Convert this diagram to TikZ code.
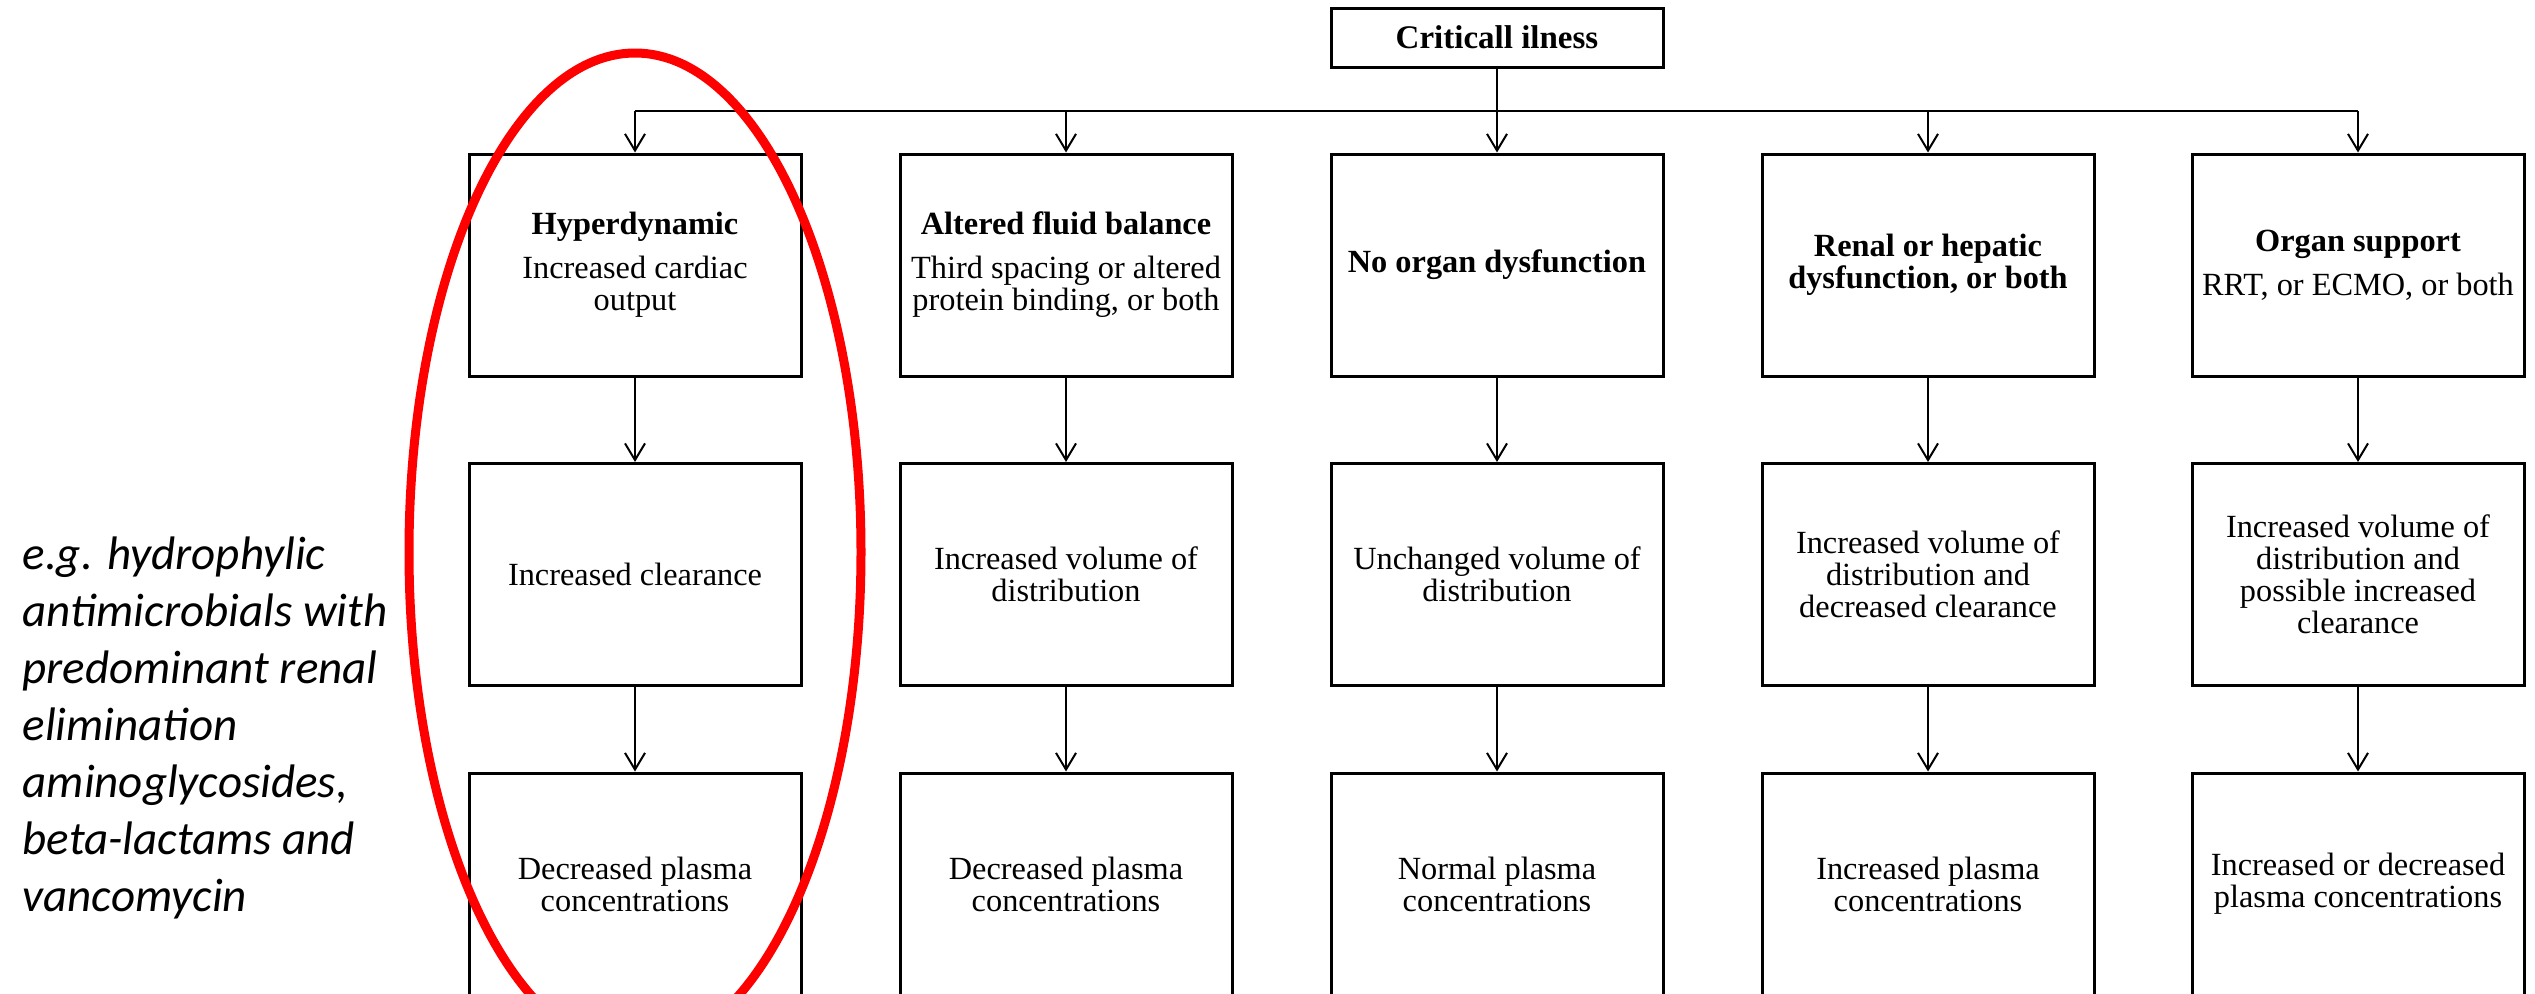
\documentclass[tikz,border=0pt]{standalone}
\usepackage{fontspec}
\setmainfont{Liberation Serif}
\newfontfamily\notefont{Carlito}
\usetikzlibrary{arrows.meta}
\tikzset{
  stagebox/.style={draw, line width=0.9pt, minimum width=99.6pt, minimum height=66.6pt,
    inner sep=0pt, align=center, font=\fontsize{9.7}{9.6}\selectfont},
  flow/.style={line width=0.6pt, -{Straight Barb[length=5pt,width=6pt]}}
}
\begin{document}
\begin{tikzpicture}[x=0.3pt,y=0.3pt,yscale=-1,xscale=1]
\useasboundingbox (0,0) rectangle (2535,994);

%Shape: Rectangle [id:top]
\node [draw, line width=0.9pt, minimum width=99.6pt, minimum height=17.7pt, inner sep=0pt,
  font=\fontsize{9.9}{9.6}\selectfont\bfseries] (ill) at (1497,37.5) {Criticall ilness};

%Shape: Rectangle row 1
\node [stagebox] (hyper) at (635,265) {\textbf{Hyperdynamic}\\[3.6pt]Increased cardiac\\output};
\node [stagebox] (fluid) at (1066,265) {\textbf{Altered fluid balance}\\[3.6pt]Third spacing or altered\\protein binding, or both};
\node [stagebox] (noorgan) at (1497,265) {\textbf{No organ dysfunction}};
\node [stagebox] (renal) at (1928,265) {\textbf{Renal or hepatic}\\\textbf{dysfunction, or both}};
\node [stagebox] (support) at (2358,265) {\textbf{Organ support}\\[3.6pt]RRT, or ECMO, or both};

%Shape: Rectangle row 2
\node [stagebox] (hyperpk) at (635,574.5) {Increased clearance};
\node [stagebox] (fluidpk) at (1066,574.5) {Increased volume of\\distribution};
\node [stagebox] (noorganpk) at (1497,574.5) {Unchanged volume of\\distribution};
\node [stagebox] (renalpk) at (1928,574.5) {Increased volume of\\distribution and\\decreased clearance};
\node [stagebox] (supportpk) at (2358,574.5) {Increased volume of\\distribution and\\possible increased\\clearance};

%Shape: Rectangle row 3
\node [stagebox] (hyperconc) at (635,884) {Decreased plasma\\concentrations};
\node [stagebox] (fluidconc) at (1066,884) {Decreased plasma\\concentrations};
\node [stagebox] (noorganconc) at (1497,884) {Normal plasma\\concentrations};
\node [stagebox] (renalconc) at (1928,884) {Increased plasma\\concentrations};
\node [stagebox] (supportconc) at (2358,884) {Increased or decreased\\plasma concentrations};

%Straight Lines [id:split]
\coordinate (split) at (1497,111);
\draw [line width=0.6pt] (split -| hyper.north) -- (split -| support.north);
\draw [flow] (ill.south) -- (noorgan.north);
\draw [flow] (split -| hyper.north) -- (hyper.north);
\draw [flow] (split -| fluid.north) -- (fluid.north);
\draw [flow] (split -| renal.north) -- (renal.north);
\draw [flow] (split -| support.north) -- (support.north);

%Straight Lines [id:rows]
\draw [flow] (hyper.south) -- (hyperpk.north);
\draw [flow] (fluid.south) -- (fluidpk.north);
\draw [flow] (noorgan.south) -- (noorganpk.north);
\draw [flow] (renal.south) -- (renalpk.north);
\draw [flow] (support.south) -- (supportpk.north);
\draw [flow] (hyperpk.south) -- (hyperconc.north);
\draw [flow] (fluidpk.south) -- (fluidconc.north);
\draw [flow] (noorganpk.south) -- (noorganconc.north);
\draw [flow] (renalpk.south) -- (renalconc.north);
\draw [flow] (supportpk.south) -- (supportconc.north);

%Shape: Ellipse [id:mark]
\draw [red, line width=2.7pt] (635,552) ellipse [x radius=226, y radius=499];

% Text Node
\node [anchor=north west, inner sep=0pt, align=left,
  font=\notefont\itshape\fontsize{14.1}{17.1}\selectfont] (note) at (22,536)
  {e.g. hydrophylic\\antimicrobials with\\predominant renal\\elimination\\aminoglycosides,\\beta-lactams and\\vancomycin};

\end{tikzpicture}
\end{document}
